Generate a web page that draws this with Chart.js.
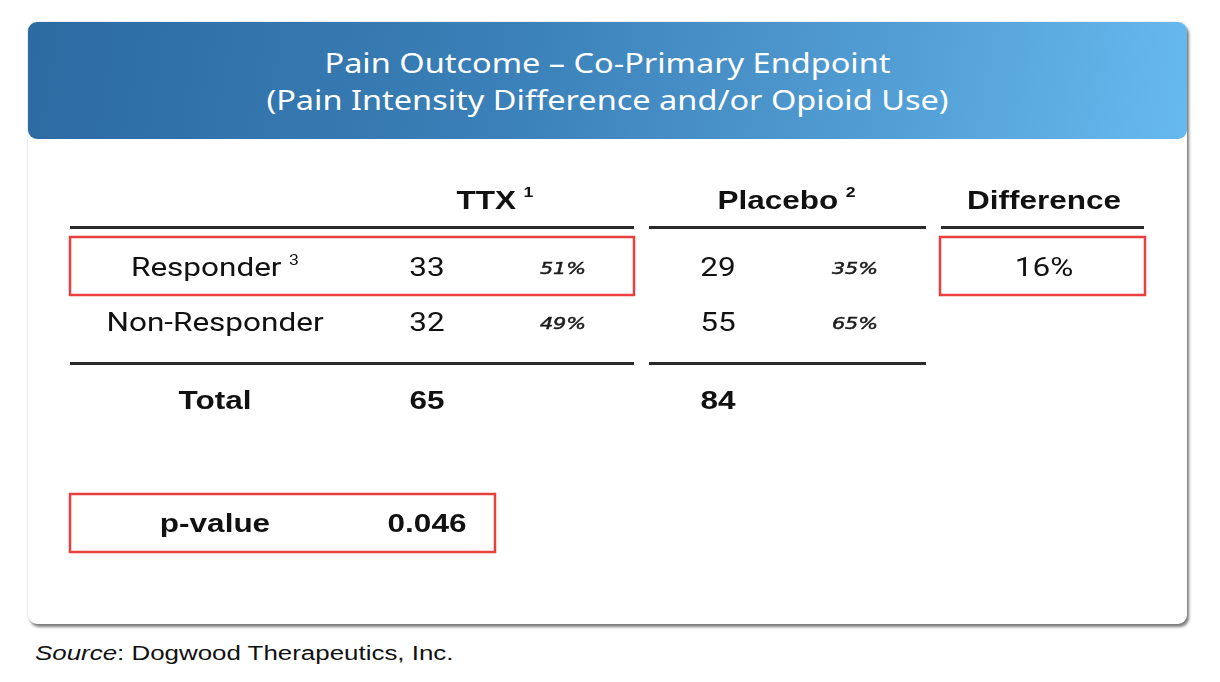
<!DOCTYPE html>
<html><head><meta charset="utf-8">
<script src="https://cdn.jsdelivr.net/npm/chart.js@4.4.1/dist/chart.umd.min.js"></script>
<style>
html,body{margin:0;padding:0;background:#fff;width:1220px;height:682px;overflow:hidden;}
#card{position:absolute;left:28px;top:22px;width:1159px;height:602px;background:#fff;border-radius:9px;
  box-shadow:2px 3px 3px rgba(0,0,0,0.5),0 0 2px rgba(0,0,0,0.18);}
#head{position:absolute;left:0;top:0;width:1159px;height:117px;border-radius:9px;
  background:linear-gradient(100deg,#2c6aa2 0%,#3a7fb7 40%,#4f9ad0 70%,#66b9ee 100%);}
#title{position:absolute;left:0;top:22px;width:1159px;text-align:center;color:#fff;
  font:400 28px 'Noto Sans',sans-serif;line-height:37px;transform:scaleX(1.16);transform-origin:50% 50%;}
#wrap{position:absolute;left:0;top:118px;width:1159px;height:484px;}
#src{position:absolute;left:35px;top:641px;font:20px 'Liberation Sans',Arial,sans-serif;line-height:24px;color:#111;
  white-space:nowrap;transform:scaleX(1.295);transform-origin:0 50%;}
</style></head>
<body>
<div id="card">
  <div id="head"><div id="title">Pain Outcome – Co-Primary Endpoint<br>(Pain Intensity Difference and/or Opioid Use)</div></div>
  <div id="wrap"><canvas id="c" width="1159" height="484"></canvas></div>
</div>
<div id="src"><i>Source</i>: Dogwood Therapeutics, Inc.</div>
<script>
// ---- data ----
const groups = ['TTX', 'Placebo', 'Difference'];
const groupNotes = ['1', '2', ''];
const outcomes = ['Responder', 'Non-Responder'];
const outcomeNotes = ['3', ''];
const ttxCounts = [33, 32];
const ttxPercents = [51, 49];
const placeboCounts = [29, 55];
const placeboPercents = [35, 65];
const totalLabel = 'Total';
const totals = [65, 84];
const differencePercents = [16];
const pLabel = 'p-value';
const pValues = ['0.046'];

// ---- layout (table units, not data) ----
const COL = {label:187, ttxN:399, ttxP:535, plN:690, plP:827, diff:1016};
const ROW = {head:62, resp:130, non:185, total:262, p:385};
const RULES = [
  {x0:42, x1:606, y:87}, {x0:621, x1:898, y:87}, {x0:913, x1:1116, y:87},
  {x0:42, x1:606, y:223}, {x0:621, x1:898, y:223}
];
const BOXES = [
  {x0:42, x1:606, y0:97, y1:155}, {x0:912, x1:1117, y0:97, y1:155}, {x0:42, x1:467, y0:354, y1:412}
];
const STRETCH = 1.26;
const F = {
  head:"bold 25px 'Liberation Sans', Arial, sans-serif",
  bold:"bold 25px 'Liberation Sans', Arial, sans-serif",
  cell:"400 25px Roboto, sans-serif",
  pct:"oblique 16.5px 'DejaVu Sans', sans-serif",
  sup:"bold 14px 'Liberation Sans', Arial, sans-serif",
  supR:"400 14px Roboto, sans-serif"
};

function cell(x, y, text, font, sup, supFont, color, stroke) {
  return {x, y, text, font, sup: sup || '', supFont: supFont || F.sup, color: color || '#111', stroke: stroke || 0};
}
const cells = [];
cells.push(cell((COL.ttxN+COL.ttxP)/2, ROW.head, groups[0], F.head, groupNotes[0]));
cells.push(cell((COL.plN+COL.plP)/2, ROW.head, groups[1], F.head, groupNotes[1]));
cells.push(cell(COL.diff, ROW.head, groups[2], F.head, groupNotes[2]));
const rowKeys = [ROW.resp, ROW.non];
outcomes.forEach((o, i) => {
  const y = rowKeys[i];
  cells.push(cell(COL.label, y, o, F.cell, outcomeNotes[i], F.supR));
  cells.push(cell(COL.ttxN, y, String(ttxCounts[i]), F.cell));
  cells.push(cell(COL.ttxP, y, ttxPercents[i] + '%', F.pct, '', '', '#1c1c1c', 0.5));
  cells.push(cell(COL.plN, y, String(placeboCounts[i]), F.cell));
  cells.push(cell(COL.plP, y, placeboPercents[i] + '%', F.pct, '', '', '#1c1c1c', 0.5));
});
differencePercents.forEach((d, i) => cells.push(cell(COL.diff, rowKeys[i], d + '%', F.cell)));
cells.push(cell(COL.label, ROW.total, totalLabel, F.bold));
cells.push(cell(COL.ttxN, ROW.total, String(totals[0]), F.bold));
cells.push(cell(COL.plN, ROW.total, String(totals[1]), F.bold));
cells.push(cell(COL.label, ROW.p, pLabel, F.bold));
cells.push(cell(COL.ttxN, ROW.p, pValues[0], F.bold));

const tablePlugin = {
  id: 'tablePlugin',
  afterDatasetsDraw(chart) {
    const {ctx, scales:{x, y}} = chart;
    ctx.save();
    RULES.forEach(r => {
      ctx.beginPath();
      ctx.strokeStyle = '#2a2a2a';
      ctx.lineWidth = 3;
      const py = Math.round(y.getPixelForValue(r.y)) + 0.5;
      ctx.moveTo(x.getPixelForValue(r.x0), py);
      ctx.lineTo(x.getPixelForValue(r.x1), py);
      ctx.stroke();
    });
    BOXES.forEach(b => {
      ctx.strokeStyle = '#e8403e';
      ctx.lineWidth = 2.5;
      const x0 = x.getPixelForValue(b.x0), x1 = x.getPixelForValue(b.x1);
      const y0 = y.getPixelForValue(b.y0), y1 = y.getPixelForValue(b.y1);
      ctx.strokeRect(x0, y0, x1 - x0, y1 - y0);
    });
    const meta = chart.getDatasetMeta(0);
    const ds = chart.data.datasets[0];
    meta.data.forEach((el, i) => {
      const c = ds.cells[i];
      ctx.save();
      ctx.translate(el.x, el.y);
      ctx.scale(STRETCH, 1);
      ctx.fillStyle = c.color;
      ctx.strokeStyle = c.color;
      ctx.textBaseline = 'middle';
      ctx.textAlign = 'left';
      ctx.font = c.font;
      const w = ctx.measureText(c.text).width;
      let sw = 0;
      if (c.sup) { ctx.font = c.supFont; sw = ctx.measureText(c.sup).width + 6; }
      const left = -(w + sw) / 2;
      ctx.font = c.font;
      ctx.fillText(c.text, left, 0);
      if (c.stroke) { ctx.lineWidth = c.stroke; ctx.strokeText(c.text, left, 0); }
      if (c.sup) {
        ctx.font = c.supFont;
        ctx.fillText(c.sup, left + w + 6, -9);
      }
      ctx.restore();
    });
    ctx.restore();
  }
};

new Chart(document.getElementById('c'), {
  type: 'scatter',
  data: { datasets: [{ data: cells.map(c => ({x: c.x, y: c.y})), cells, pointRadius: 0, pointHoverRadius: 0 }] },
  options: {
    responsive: false, animation: false, devicePixelRatio: 1,
    layout: { padding: 0 },
    plugins: { legend: {display:false}, tooltip: {enabled:false} },
    scales: {
      x: { type:'linear', min:0, max:1159, display:false },
      y: { type:'linear', min:0, max:484, reverse:true, display:false }
    }
  },
  plugins: [tablePlugin]
});
</script>
</body></html>
